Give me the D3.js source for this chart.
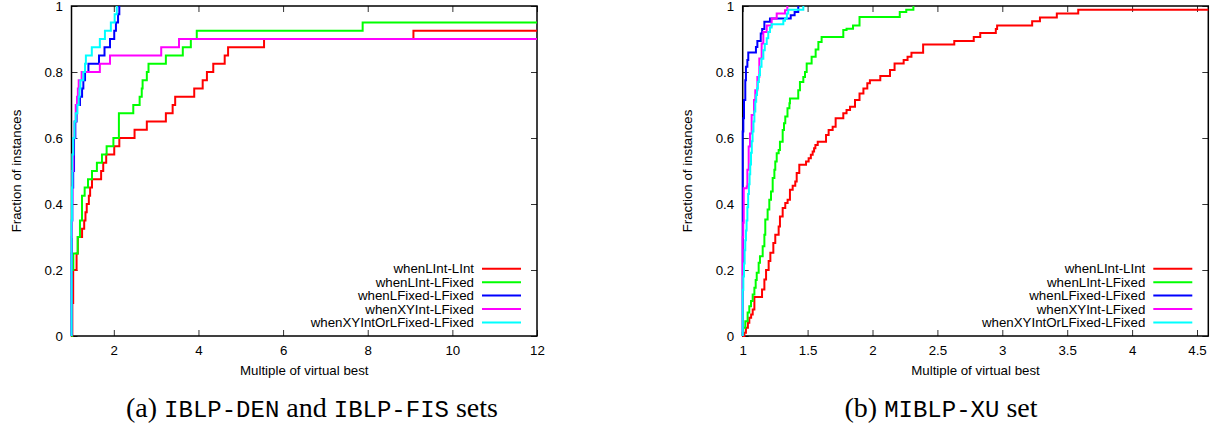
<!DOCTYPE html>
<html><head><meta charset="utf-8">
<script src="https://cdn.jsdelivr.net/npm/d3@7/dist/d3.min.js"></script>
<style>body{margin:0;background:#fff} svg{display:block}</style>
</head><body>
<svg id="chart" width="1214" height="429"></svg>
<script>
// ---------------- DATA ----------------
const seriesNames = ["whenLInt-LInt","whenLInt-LFixed","whenLFixed-LFixed","whenXYInt-LFixed","whenXYIntOrLFixed-LFixed"];
const seriesColors = ["#ff0000","#00ff00","#0000ff","#ff00ff","#00ffff"];

const yTickValues = [0,0.2,0.4,0.6,0.8,1];
const yTickLabels = ["0","0.2","0.4","0.6","0.8","1"];
const leftXTickValues = [2,4,6,8,10,12];
const leftXTickLabels = ["2","4","6","8","10","12"];
const rightXTickValues = [1,1.5,2,2.5,3,3.5,4,4.5];
const rightXTickLabels = ["1","1.5","2","2.5","3","3.5","4","4.5"];
const xAxisTitle = "Multiple of virtual best";
const yAxisTitle = "Fraction of instances";

// Panel (a): ratio to virtual best of each solved instance (40 instances)
const leftInstanceCount = 40;
const leftLIntLInt = [1.02,1.02,1.02,1.02,1.04,1.04,1.04,1.04,1.12,1.12,1.15,1.15,1.25,1.30,1.33,1.36,1.41,1.44,1.485,1.70,1.75,1.82,2.01,2.13,2.49,2.78,3.23,3.39,3.45,3.9,4.1,4.2,4.35,4.62,4.7,5.55,9.08];
const leftLIntLFixed = [1.01,1.01,1.01,1.01,1.01,1.01,1.01,1.01,1.043,1.043,1.146,1.146,1.20,1.20,1.248,1.248,1.248,1.311,1.39,1.485,1.60,1.72,1.83,1.99,2.12,2.12,2.12,2.46,2.61,2.66,2.68,2.78,2.82,3.23,3.63,3.82,3.96,7.88];
const leftLFixedLFixed = [1.0,1.0,1.0,1.0,1.0,1.0,1.0,1.0,1.0,1.0,1.01,1.01,1.01,1.01,1.02,1.02,1.02,1.02,1.04,1.04,1.06,1.06,1.06,1.06,1.09,1.09,1.12,1.12,1.20,1.25,1.28,1.32,1.40,1.65,1.78,1.91,2.01,2.05,2.10,2.13];
const leftXYIntLFixed = [1.0,1.0,1.0,1.0,1.0,1.0,1.0,1.0,1.0,1.0,1.0,1.0,1.01,1.01,1.01,1.01,1.02,1.02,1.02,1.02,1.04,1.04,1.04,1.04,1.07,1.07,1.10,1.10,1.13,1.15,1.17,1.24,1.67,1.91,3.12,3.54];
const leftXYIntOrLFixed = [1.0,1.0,1.0,1.0,1.0,1.0,1.0,1.0,1.0,1.0,1.0,1.0,1.0,1.0,1.01,1.01,1.01,1.01,1.02,1.02,1.02,1.02,1.04,1.04,1.07,1.07,1.10,1.14,1.17,1.19,1.21,1.28,1.32,1.34,1.48,1.67,1.79,1.93,2.02,2.07];

// Panel (b): cumulative fraction breakpoints (x = multiple, y = fraction reached)
const rightLIntLIntX = [1.013,1.025,1.04,1.051,1.065,1.077,1.09,1.149,1.167,1.18,1.20,1.213,1.236,1.251,1.277,1.287,1.308,1.328,1.346,1.364,1.385,1.405,1.416,1.436,1.488,1.508,1.525,1.539,1.550,1.560,1.578,1.642,1.662,1.693,1.716,1.775,1.80,1.827,1.865,1.90,1.93,1.96,1.98,2.06,2.135,2.17,2.24,2.27,2.30,2.39,2.63,2.78,2.83,2.95,2.96,3.23,3.29,3.42,3.585];
const rightLIntLIntY = [0.01,0.025,0.04,0.055,0.065,0.08,0.118,0.141,0.171,0.2,0.227,0.252,0.282,0.307,0.332,0.362,0.388,0.403,0.413,0.443,0.455,0.468,0.494,0.519,0.529,0.539,0.549,0.559,0.569,0.579,0.589,0.609,0.624,0.634,0.66,0.675,0.685,0.695,0.715,0.735,0.75,0.766,0.775,0.788,0.806,0.826,0.836,0.846,0.858,0.883,0.894,0.906,0.918,0.93,0.941,0.954,0.965,0.977,0.989];
const rightLIntLFixedX = [1.0,1.004,1.02,1.038,1.051,1.064,1.077,1.09,1.10,1.108,1.123,1.133,1.154,1.167,1.174,1.192,1.205,1.218,1.231,1.244,1.251,1.262,1.277,1.287,1.308,1.318,1.328,1.345,1.36,1.364,1.428,1.441,1.467,1.48,1.493,1.531,1.562,1.583,1.608,1.775,1.80,1.85,1.90,2.21,2.26,2.315];
const rightLIntLFixedY = [0.01,0.025,0.045,0.071,0.09,0.106,0.126,0.146,0.17,0.192,0.222,0.242,0.272,0.307,0.353,0.383,0.413,0.438,0.479,0.504,0.529,0.554,0.564,0.589,0.624,0.645,0.665,0.69,0.705,0.72,0.745,0.77,0.785,0.80,0.826,0.846,0.868,0.891,0.906,0.927,0.931,0.941,0.967,0.982,0.989,1.0];
const rightLFixedLFixedX = [1.0,1.005,1.01,1.02,1.025,1.036,1.043,1.102,1.113,1.139,1.15,1.167,1.21,1.37,1.40,1.428];
const rightLFixedLFixedY = [0.62,0.66,0.715,0.775,0.816,0.836,0.859,0.876,0.894,0.917,0.93,0.952,0.962,0.972,0.982,1.0];
const rightXYIntLFixedX = [1.0,1.004,1.008,1.031,1.036,1.046,1.056,1.069,1.087,1.097,1.113,1.128,1.146,1.159,1.185,1.223,1.262,1.326,1.344];
const rightXYIntLFixedY = [0.30,0.343,0.448,0.453,0.504,0.574,0.614,0.67,0.715,0.745,0.785,0.841,0.886,0.921,0.941,0.962,0.977,0.987,1.0];
const rightXYIntOrLFixedX = [1.0,1.005,1.01,1.015,1.02,1.025,1.03,1.036,1.042,1.048,1.053,1.058,1.064,1.070,1.076,1.083,1.09,1.097,1.104,1.110,1.117,1.125,1.133,1.145,1.159,1.17,1.185,1.197,1.21,1.223,1.313,1.326,1.34,1.351,1.467];
const rightXYIntOrLFixedY = [0.14,0.18,0.22,0.26,0.29,0.32,0.35,0.39,0.43,0.46,0.49,0.52,0.555,0.59,0.62,0.65,0.68,0.71,0.73,0.75,0.77,0.79,0.816,0.84,0.866,0.885,0.902,0.921,0.935,0.945,0.955,0.962,0.977,0.989,1.0];

const captionA = [["(a) ","serif"],["IBLP-DEN","mono"],[" and ","serif"],["IBLP-FIS","mono"],[" sets","serif"]];
const captionB = [["(b) ","serif"],["MIBLP-XU","mono"],[" set","serif"]];

// ---------------- DRAWING ----------------
const svg = d3.select("#chart");
svg.append("rect").attr("width",1214).attr("height",429).attr("fill","#fff");
const FONT = "'Liberation Sans', Arial, Helvetica, sans-serif";
const FS = 13.3;

function ratiosToSteps(ratios, n) {
  const s = ratios.slice().sort((a,b)=>a-b);
  const xs = [], ys = [];
  s.forEach((v,i) => {
    if (xs.length && xs[xs.length-1] === v) ys[ys.length-1] = (i+1)/n;
    else { xs.push(v); ys.push((i+1)/n); }
  });
  return {xs, ys};
}

function drawPanel(cfg) {
  const g = svg.append("g");
  const x = d3.scaleLinear().domain(cfg.xDomain).range([cfg.left, cfg.right]);
  const y = d3.scaleLinear().domain([0,1]).range([cfg.bottom, cfg.top]);
  const clipId = "clip" + cfg.id;
  svg.append("clipPath").attr("id", clipId).append("rect")
    .attr("x", cfg.left - 2).attr("y", cfg.top - 2)
    .attr("width", cfg.right - cfg.left + 4).attr("height", cfg.bottom - cfg.top + 4);

  const styleAxis = sel => {
    sel.select(".domain").remove();
    sel.selectAll(".tick line").attr("stroke","#333").attr("stroke-width",1);
    sel.selectAll(".tick text").attr("fill","#000").style("font-family",FONT).style("font-size",FS+"px");
  };
  g.append("g").attr("transform",`translate(0,${cfg.bottom})`)
    .call(d3.axisBottom(x).tickValues(cfg.xTicks).tickFormat((d,i)=>cfg.xLabels[i]).tickSizeInner(-6).tickSizeOuter(0).tickPadding(9.6))
    .call(styleAxis);
  g.append("g").attr("transform",`translate(0,${cfg.top})`)
    .call(d3.axisTop(x).tickValues(cfg.xTicks).tickFormat("").tickSizeInner(-6).tickSizeOuter(0))
    .call(styleAxis);
  g.append("g").attr("transform",`translate(${cfg.left},0)`)
    .call(d3.axisLeft(y).tickValues(yTickValues).tickFormat((d,i)=>yTickLabels[i]).tickSizeInner(-6).tickSizeOuter(0).tickPadding(8.5))
    .call(styleAxis);
  g.append("g").attr("transform",`translate(${cfg.right},0)`)
    .call(d3.axisRight(y).tickValues(yTickValues).tickFormat("").tickSizeInner(-6).tickSizeOuter(0))
    .call(styleAxis);

  g.append("rect").attr("x",cfg.left).attr("y",cfg.top)
    .attr("width",cfg.right-cfg.left).attr("height",cfg.bottom-cfg.top)
    .attr("fill","none").attr("stroke","#000").attr("stroke-width",1.5);

  const line = d3.line().x(d=>x(d[0])).y(d=>y(d[1])).curve(d3.curveStepAfter);
  const lg = g.append("g").attr("clip-path",`url(#${clipId})`);
  cfg.series.forEach((s,i) => {
    const pts = [[cfg.xDomain[0],0]];
    s.xs.forEach((v,j) => pts.push([v, s.ys[j]]));
    const last = s.ys[s.ys.length-1];
    if (last < 1) pts.push([cfg.xDomain[1], last]);
    lg.append("path").datum(pts).attr("d",line)
      .attr("fill","none").attr("stroke",seriesColors[i]).attr("stroke-width",2)
      .attr("stroke-linejoin","miter");
  });

  // legend
  const leg = g.append("g");
  seriesNames.forEach((name,i) => {
    const ry = cfg.bottom - 67.3 + i*13.45;
    leg.append("text").attr("x",cfg.right-63).attr("y",ry).attr("dy","0.35em")
      .attr("text-anchor","end").style("font-family",FONT).style("font-size",FS+"px").text(name);
    leg.append("line").attr("x1",cfg.right-55).attr("x2",cfg.right-16).attr("y1",ry).attr("y2",ry)
      .attr("stroke",seriesColors[i]).attr("stroke-width",2);
  });

  // axis titles
  g.append("text").attr("x",(cfg.left+cfg.right)/2).attr("y",cfg.bottom+38.5)
    .attr("text-anchor","middle").style("font-family",FONT).style("font-size",FS+"px").text(xAxisTitle);
  g.append("text").attr("transform",`translate(${cfg.yTitleX},${(cfg.top+cfg.bottom)/2}) rotate(-90)`)
    .attr("dy","0.35em").attr("text-anchor","middle").style("font-family",FONT).style("font-size",FS+"px").text(yAxisTitle);

  // caption
  const cap = svg.append("text").attr("x",cfg.captionX).attr("y",417).attr("text-anchor","middle")
    .attr("xml:space","preserve");
  cfg.caption.forEach(([t,kind]) => {
    cap.append("tspan").text(t)
      .style("font-family", kind==="mono" ? "'Liberation Mono','DejaVu Sans Mono',monospace" : "'Liberation Serif','DejaVu Serif',serif")
      .style("font-size", kind==="mono" ? "24px" : "28px")
      .style("white-space","pre");
  });
}

const leftSeries = [leftLIntLInt,leftLIntLFixed,leftLFixedLFixed,leftXYIntLFixed,leftXYIntOrLFixed]
  .map(r => ratiosToSteps(r, leftInstanceCount));
const rightSeries = [
  {xs:rightLIntLIntX, ys:rightLIntLIntY},
  {xs:rightLIntLFixedX, ys:rightLIntLFixedY},
  {xs:rightLFixedLFixedX, ys:rightLFixedLFixedY},
  {xs:rightXYIntLFixedX, ys:rightXYIntLFixedY},
  {xs:rightXYIntOrLFixedX, ys:rightXYIntOrLFixedY}
];

drawPanel({id:"a", left:71.5, right:537, top:6, bottom:336, xDomain:[1,12],
  xTicks:leftXTickValues, xLabels:leftXTickLabels, series:leftSeries, yTitleX:16, captionX:312, caption:captionA});
drawPanel({id:"b", left:742.7, right:1208.3, top:6, bottom:336, xDomain:[1,4.587],
  xTicks:rightXTickValues, xLabels:rightXTickLabels, series:rightSeries, yTitleX:687, captionX:941, caption:captionB});
</script>
</body></html>
